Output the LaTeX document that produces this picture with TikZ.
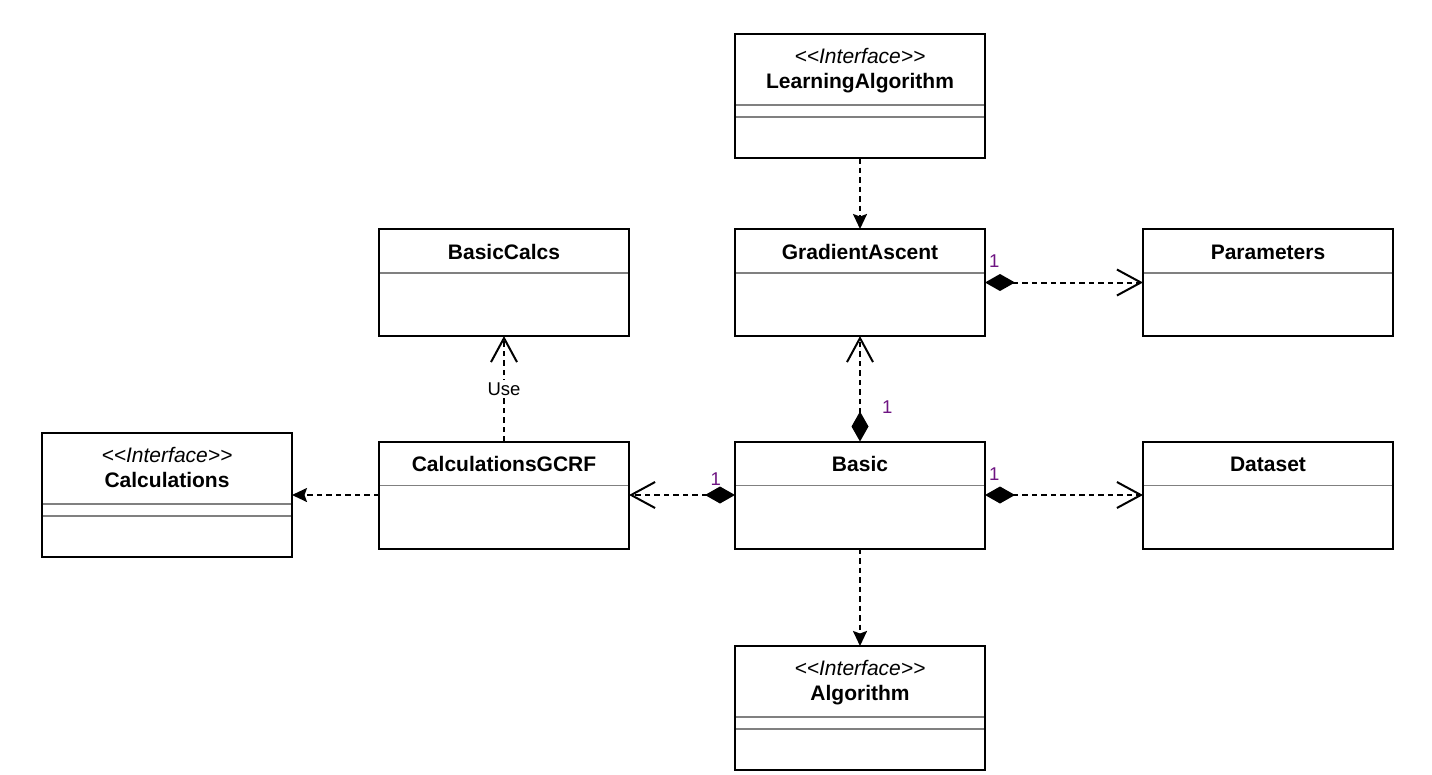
\documentclass[tikz,border=0pt]{standalone}
\usepackage{fontspec}
\setmainfont{Liberation Sans}
\usepackage{xcolor}
\usepackage{tikz}
\usetikzlibrary{arrows.meta}
\definecolor{multcol}{RGB}{110,20,130}
\tikzset{
  classbox/.style={draw, line width=2pt, minimum width=250pt, minimum height=107pt, inner sep=0pt, outer sep=0pt},
  ifacebox/.style={classbox, minimum height=124pt},
  classtitle/.style={font=\fontsize{21}{25}\selectfont\bfseries, inner sep=0pt, anchor=base},
  stereo/.style={font=\fontsize{21}{25}\selectfont\itshape, inner sep=0pt, anchor=base},
  sepline/.style={draw=gray, line width=1.5pt, shorten <=1pt, shorten >=1pt},
  depline/.style={line width=2pt, dash pattern=on 5.5pt off 4pt},
  realizes/.style={depline, -{Stealth[length=15pt,width=14pt,inset=2.5pt]}},
  owns/.style={depline, {Diamond[length=30pt,width=17pt]}-{Straight Barb[length=24pt,width=26pt]}},
  uses/.style={depline, -{Straight Barb[length=24pt,width=26pt]}},
  mult/.style={font=\fontsize{18.5}{20}\selectfont, text=multcol, inner sep=0pt},
  usetext/.style={font=\fontsize{18.5}{20}\selectfont, fill=white, inner sep=2pt}
}
\newcommand{\umlclass}[3]{
  \node[classbox] (#1) at (#2) {};
  \node[classtitle] at ([yshift=-30pt]#1.north) {#3};
  \draw[sepline] ([yshift=-44pt]#1.north west) -- ([yshift=-44pt]#1.north east);
}
\newcommand{\umliface}[3]{
  \node[ifacebox] (#1) at (#2) {};
  \node[stereo] at ([yshift=-29pt]#1.north) {<\kern0pt<Interface>\kern0pt>};
  \node[classtitle] at ([yshift=-54pt]#1.north) {#3};
  \draw[sepline] ([yshift=-71pt]#1.north west) -- ([yshift=-71pt]#1.north east);
  \draw[sepline] ([yshift=-83pt]#1.north west) -- ([yshift=-83pt]#1.north east);
}
\begin{document}
\begin{tikzpicture}[x=1pt, y=-1pt]
      \path[use as bounding box, fill=white] (0,0) rectangle (1432,774);
      \umliface{learnalg}{860,96}{LearningAlgorithm}
      \umlclass{gradasc}{860,282.5}{GradientAscent}
      \umlclass{params}{1268,282.5}{Parameters}
      \umlclass{basiccalcs}{504,282.5}{BasicCalcs}
      \umliface{calcs}{167,495}{Calculations}
      \umlclass{calcgcrf}{504,495}{CalculationsGCRF}
      \umlclass{basic}{860,495}{Basic}
      \umlclass{dataset}{1268,495}{Dataset}
      \umliface{alg}{860,708}{Algorithm}
      \draw[realizes] (learnalg) -- (gradasc);
      \draw[realizes] (basic) -- (alg);
      \draw[realizes] (calcgcrf) -- (calcs);
      \draw[uses] (calcgcrf) -- node[usetext] {Use} (basiccalcs);
      \draw[owns] (gradasc) -- node[mult, pos=0, anchor=base west, xshift=3pt, yshift=15pt] {1} (params);
      \draw[owns] (basic) -- node[mult, pos=0, anchor=base west, xshift=3pt, yshift=15pt] {1} (dataset);
      \draw[owns] (basic) -- node[mult, pos=0, anchor=base east, xshift=-13pt, yshift=10pt] {1} (calcgcrf);
      \draw[owns] (basic) -- node[mult, pos=0, anchor=base west, xshift=21pt, yshift=28pt] {1} (gradasc);
\end{tikzpicture}
\end{document}
